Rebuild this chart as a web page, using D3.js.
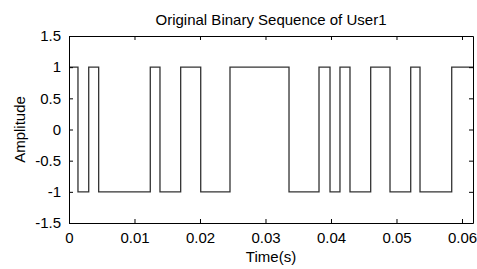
<!DOCTYPE html>
<html>
<head>
<meta charset="utf-8">
<script src="https://cdn.jsdelivr.net/npm/d3@7"></script>
<style>
  body { margin: 0; background: #fff; }
  svg { display: block; font-family: "Liberation Sans", Arial, sans-serif; }
  .axis path, .axis line { stroke: #000; }
  .axis text { font-size: 15px; fill: #000; }
</style>
</head>
<body>
<svg id="chart"></svg>
<script>
// level change times (s)
const times = [0, 0.00137, 0.00301, 0.00453, 0.01241, 0.01389, 0.01705, 0.02011, 0.02458,
    0.03359, 0.03817, 0.03985, 0.04137, 0.04290, 0.04606, 0.04901, 0.05217, 0.05359, 0.05843, 0.06168]
// amplitude from each time on
const levels = [1, -1, 1, -1, 1, -1, 1, -1, 1, -1, 1, -1, 1, -1, 1, -1, 1, -1, 1, 1]
const xTicks = [0, 0.01, 0.02, 0.03, 0.04, 0.05, 0.06]
const xTickLabels = ["0", "0.01", "0.02", "0.03", "0.04", "0.05", "0.06"]
const yTicks = [-1.5, -1, -0.5, 0, 0.5, 1, 1.5]
const yTickLabels = ["-1.5", "-1", "-0.5", "0", "0.5", "1", "1.5"]

const w = 477
const h = 269
const margin = { top: 36, right: 4, bottom: 46, left: 69 }
const width = w - margin.left - margin.right
const height = h - margin.top - margin.bottom

const data = times.map((t, i) => ({ t, v: levels[i] }))

const x = d3.scaleLinear().domain([0, 0.06168]).range([0, width])
const y = d3.scaleLinear().domain([-1.5, 1.5]).range([height, 0])

const svg = d3.select("#chart").attr("width", w).attr("height", h)
const chart = svg.append("g").attr("transform", `translate(${margin.left}, ${margin.top})`)

const line = d3.line()
    .x(d => x(d.t))
    .y(d => y(d.v))
    .curve(d3.curveStepAfter)

chart.append("path")
    .datum(data)
    .attr("fill", "none")
    .attr("stroke", "#333")
    .attr("stroke-width", 1.3)
    .attr("d", line)

// bottom / left with labels, top / right bare (ticks inward)
chart.append("g")
    .attr("class", "x axis")
    .attr("transform", `translate(0, ${height})`)
    .call(d3.axisBottom(x).tickValues(xTicks).tickSizeInner(-4).tickSizeOuter(0)
        .tickPadding(9).tickFormat((d, i) => xTickLabels[i]))
chart.append("g")
    .attr("class", "x axis")
    .call(d3.axisTop(x).tickValues(xTicks).tickSizeInner(-4).tickSizeOuter(0).tickFormat(""))
chart.append("g")
    .attr("class", "y axis")
    .call(d3.axisLeft(y).tickValues(yTicks).tickSizeInner(-4).tickSizeOuter(0)
        .tickPadding(8).tickFormat((d, i) => yTickLabels[i]))
chart.append("g")
    .attr("class", "y axis")
    .attr("transform", `translate(${width}, 0)`)
    .call(d3.axisRight(y).tickValues(yTicks).tickSizeInner(-4).tickSizeOuter(0).tickFormat(""))

chart.append("text")
    .attr("x", width / 2)
    .attr("y", -11)
    .attr("text-anchor", "middle")
    .style("font-size", "15px")
    .text("Original Binary Sequence of User1")

chart.append("text")
    .attr("x", width / 2)
    .attr("y", height + 39)
    .attr("text-anchor", "middle")
    .style("font-size", "15px")
    .text("Time(s)")

chart.append("text")
    .attr("transform", "rotate(-90)")
    .attr("x", -height / 2)
    .attr("y", -44)
    .attr("text-anchor", "middle")
    .style("font-size", "15px")
    .text("Amplitude")
</script>
</body>
</html>
